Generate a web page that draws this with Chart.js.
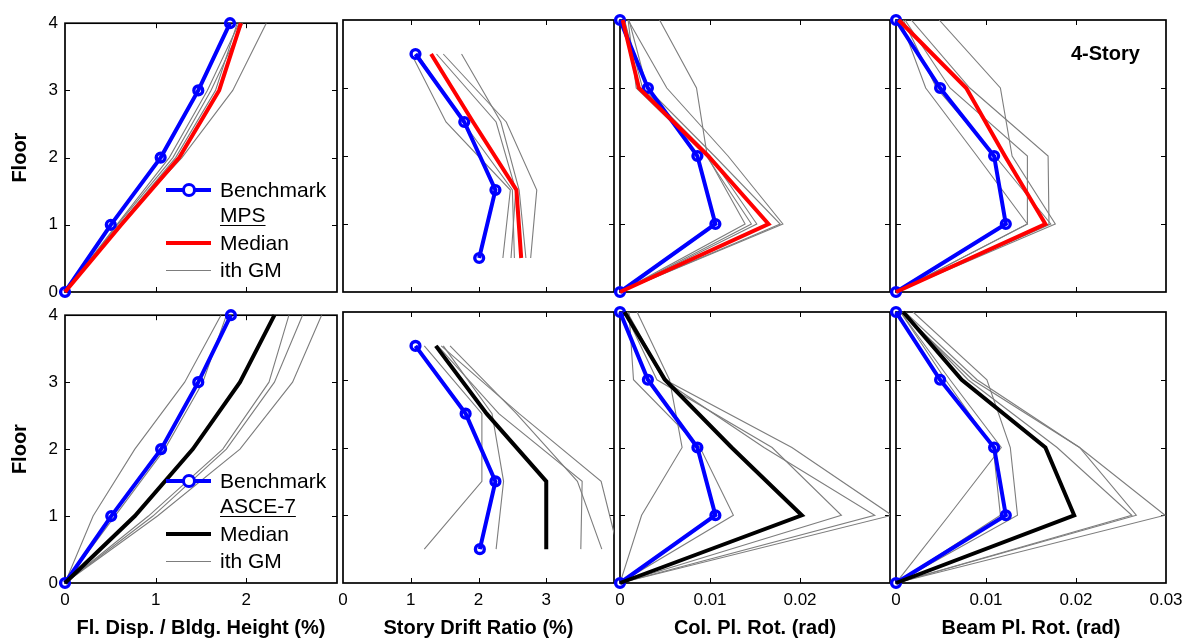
<!DOCTYPE html>
<html>
<head>
<meta charset="utf-8">
<script src="https://cdn.jsdelivr.net/npm/chart.js@4.4.1/dist/chart.umd.min.js"></script>
<style>
  html, body { margin: 0; padding: 0; background: #fff; }
  body { width: 1188px; height: 640px; position: relative; overflow: hidden;
         font-family: "Liberation Sans", Arial, sans-serif; color: #000; }
  canvas { position: absolute; }
  .txt { position: absolute; white-space: nowrap; line-height: 24px; transform: translateY(-50%); }
  .lg { font-size: 21px; }
  .u { text-decoration: underline; text-underline-offset: 3px; text-decoration-thickness: 1px; }
  .sample { position: absolute; }
  .mk { position: absolute; width: 8px; height: 8px; border: 3px solid #0000ff; border-radius: 50%; background: #fff; }
  .story { font-size: 20px; font-weight: bold; }
</style>
</head>
<body>
<script>
// ── Data ─────────────────────────────────────────────────
const floors = [0, 1, 2, 3, 4];
const stories = [0.5, 1.5, 2.5, 3.5];

const xTitles = ["Fl. Disp. / Bldg. Height (%)", "Story Drift Ratio (%)", "Col. Pl. Rot. (rad)", "Beam Pl. Rot. (rad)"];
const xMaxes = [3, 4, 0.03, 0.03];
const xSteps = [1, 1, 0.01, 0.01];

// top row: Benchmark MPS, median in red (floors 0..4 / stories 0.5..3.5)
const mpsDispBench = [0, 0.505, 1.055, 1.47, 1.82];
const mpsDispMedian = [0, 0.62, 1.26, 1.70, 1.94];
const mpsDispGM = [
  [0, 0.58, 1.19, 1.61, 1.96],
  [0, 0.60, 1.29, 1.85, 2.22],
  [0, 0.60, 1.22, 1.66, 1.90],
  [0, 0.57, 1.15, 1.57, 1.92],
];

const mpsDriftBench = [2.01, 2.25, 1.79, 1.07];
const mpsDriftMedian = [2.63, 2.56, 1.92, 1.30];
const mpsDriftGM = [
  [2.36, 2.47, 1.52, 1.01],
  [2.48, 2.55, 2.26, 1.38],
  [2.77, 2.86, 2.41, 1.48],
  [2.70, 2.60, 2.33, 1.75],
  [2.53, 2.50, 1.77, 1.10],
];

const mpsColBench = [0, 0.0106, 0.0086, 0.0031, 0];
const mpsColMedian = [0, 0.0165, 0.0098, 0.0021, 0.0003];
const mpsColGM = [
  [0, 0.0139, 0.0097, 0.0085, 0.0044],
  [0, 0.0146, 0.0096, 0.0018, 0.0009],
  [0, 0.0181, 0.0120, 0.0052, 0.0009],
  [0, 0.0152, 0.0100, 0.0025, 0.0005],
  [0, 0.0178, 0.0105, 0.0030, 0.0010],
];

const mpsBeamBench = [0, 0.0122, 0.0109, 0.0049, 0];
const mpsBeamMedian = [0, 0.0166, 0.0121, 0.0078, 0.0003];
const mpsBeamGM = [
  [0, 0.0177, 0.0129, 0.0116, 0.0048],
  [0, 0.0170, 0.0169, 0.0082, 0.0017],
  [0, 0.0146, 0.0090, 0.0033, 0.0005],
  [0, 0.0146, 0.0146, 0.0060, 0.0010],
  [0, 0.0172, 0.0110, 0.0045, 0.0008],
];

// bottom row: Benchmark ASCE-7, median in black
const asceDispBench = [0, 0.51, 1.06, 1.47, 1.83];
const asceDispMedian = [0, 0.77, 1.41, 1.93, 2.31];
const asceDispGM = [
  [0, 0.31, 0.77, 1.32, 1.72],
  [0, 0.55, 1.10, 1.52, 1.78],
  [0, 0.92, 1.74, 2.25, 2.47],
  [0, 0.97, 1.78, 2.31, 2.62],
  [0, 1.02, 1.93, 2.51, 2.83],
];

const asceDriftBench = [2.02, 2.25, 1.81, 1.07];
const asceDriftMedian = [3.0, 3.0, 2.12, 1.37];
const asceDriftGM = [
  [1.20, 2.05, 2.05, 1.20],
  [2.26, 2.37, 2.20, 1.48],
  [3.82, 3.46, 2.56, 1.58],
  [3.51, 3.53, 2.30, 1.40],
  [4.06, 3.81, 2.60, 1.45],
];

const asceColBench = [0, 0.0106, 0.0086, 0.0031, 0];
const asceColMedian = [0, 0.0202, 0.0124, 0.0050, 0.0005];
const asceColGM = [
  [0, 0.0024, 0.0069, 0.0055, 0.0019],
  [0, 0.0126, 0.0089, 0.0015, 0.0010],
  [0, 0.0246, 0.0169, 0.0041, 0.0005],
  [0, 0.0302, 0.0191, 0.0050, 0.0008],
  [0, 0.0283, 0.0160, 0.0048, 0.0006],
];

const asceBeamBench = [0, 0.0122, 0.0109, 0.0049, 0];
const asceBeamMedian = [0, 0.0198, 0.0166, 0.0073, 0.0008];
const asceBeamGM = [
  [0, 0.0059, 0.0117, 0.0060, 0.0005],
  [0, 0.0135, 0.0127, 0.0101, 0.0019],
  [0, 0.0262, 0.0179, 0.0080, 0.0008],
  [0, 0.0299, 0.0204, 0.0090, 0.0010],
  [0, 0.0267, 0.0204, 0.0085, 0.0006],
  [0, 0.0116, 0.0108, 0.0055, 0.0005],
];

// ── Layout ───────────────────────────────────────────────
const colBox = [[65, 337], [343, 614], [620, 890], [896, 1166]];
const rowBox = [[20, 292], [312, 583]];
const FONT = "'Liberation Sans', Arial, sans-serif";
const BLUE = "#0000ff";
const GRAY = "#7d7d7d";

// box + inward tick marks, MATLAB style
const boxPlugin = {
  id: "box",
  beforeDatasetsDraw(chart) {
    const { ctx, chartArea: a, scales: { x, y } } = chart;
    ctx.save();
    ctx.strokeStyle = "#000";
    ctx.lineWidth = 1;
    ctx.beginPath();
    x.ticks.forEach((t) => {
      const px = Math.round(x.getPixelForValue(t.value)) + 0.5;
      if (px <= a.left + 2 || px >= a.right - 2) return;
      ctx.moveTo(px, a.bottom); ctx.lineTo(px, a.bottom - 5);
      ctx.moveTo(px, a.top); ctx.lineTo(px, a.top + 5);
    });
    y.ticks.forEach((t) => {
      const py = Math.round(y.getPixelForValue(t.value)) + 0.5;
      if (py <= a.top + 2 || py >= a.bottom - 2) return;
      ctx.moveTo(a.left, py); ctx.lineTo(a.left + 5, py);
      ctx.moveTo(a.right, py); ctx.lineTo(a.right - 5, py);
    });
    ctx.stroke();
    ctx.lineWidth = 1.7;
    ctx.strokeRect(a.left, a.top, a.right - a.left, a.bottom - a.top);
    ctx.restore();
  },
};

const fmtTick = (v) => String(Number(v.toFixed(3)));

function pts(vals, ys) {
  return vals.map((v, i) => ({ x: v, y: ys[i] }));
}

function makePanel(col, row, ys, bench, median, medColor, gms) {
  const padL = 60, padT = 14, padR = 26, padB = 57;
  const [L, R] = colBox[col];
  const [T, B] = rowBox[row];
  const cv = document.createElement("canvas");
  cv.width = R - L + padL + padR;
  cv.height = B - T + padT + padB;
  cv.style.left = L - padL + "px";
  cv.style.top = T - padT + "px";
  document.body.appendChild(cv);

  const showX = row === 1;
  const showY = col === 0;
  const xMax = xMaxes[col];

  const datasets = [
    { data: pts(median, ys), borderColor: medColor, borderWidth: 4, pointRadius: 0, showLine: true, clip: false },
    { data: pts(bench, ys), borderColor: BLUE, borderWidth: 4, pointRadius: 4.4, pointBorderWidth: 3.4,
      pointBorderColor: BLUE, pointBackgroundColor: "rgba(0,0,0,0)", showLine: true, clip: false },
    ...gms.map((g) => ({ data: pts(g, ys), borderColor: GRAY, borderWidth: 1.1, pointRadius: 0, showLine: true })),
  ];

  new Chart(cv, {
    type: "scatter",
    data: { datasets },
    options: {
      responsive: false,
      animation: false,
      events: [],
      layout: { padding: { top: padT, right: padR, left: 0, bottom: 0 } },
      plugins: { legend: { display: false }, tooltip: { enabled: false } },
      scales: {
        x: {
          type: "linear", min: 0, max: xMax,
          ticks: {
            stepSize: xSteps[col], display: showX, padding: 7, color: "#000", maxRotation: 0,
            font: { family: FONT, size: 17 },
            callback: (v) => (col < 3 && Math.abs(v - xMax) < 1e-9 ? "" : fmtTick(v)),
          },
          grid: { display: false, drawTicks: false },
          border: { display: false },
          title: { display: showX, text: xTitles[col], color: "#000", padding: 0,
                   font: { family: FONT, size: 20, weight: "bold" } },
          afterFit: (s) => { s.height = padB; },
        },
        y: {
          type: "linear", min: 0, max: 4,
          ticks: { stepSize: 1, display: showY, padding: 7, color: "#000",
                   font: { family: FONT, size: 17 }, callback: fmtTick },
          grid: { display: false, drawTicks: false },
          border: { display: false },
          title: { display: showY, text: "Floor", color: "#000", padding: { top: 3, bottom: 0 },
                   font: { family: FONT, size: 20, weight: "bold" } },
          afterFit: (s) => { s.width = padL; },
        },
      },
    },
    plugins: [boxPlugin],
  });
}

makePanel(0, 0, floors, mpsDispBench, mpsDispMedian, "#ff0000", mpsDispGM);
makePanel(1, 0, stories, mpsDriftBench, mpsDriftMedian, "#ff0000", mpsDriftGM);
makePanel(2, 0, floors, mpsColBench, mpsColMedian, "#ff0000", mpsColGM);
makePanel(3, 0, floors, mpsBeamBench, mpsBeamMedian, "#ff0000", mpsBeamGM);
makePanel(0, 1, floors, asceDispBench, asceDispMedian, "#000000", asceDispGM);
makePanel(1, 1, stories, asceDriftBench, asceDriftMedian, "#000000", asceDriftGM);
makePanel(2, 1, floors, asceColBench, asceColMedian, "#000000", asceColGM);
makePanel(3, 1, floors, asceBeamBench, asceBeamMedian, "#000000", asceBeamGM);

// ── Legends ──────────────────────────────────────────────
function addText(x, y, text, cls) {
  const d = document.createElement("div");
  d.className = "txt " + cls;
  d.style.left = x + "px";
  d.style.top = y + "px";
  d.textContent = text;
  document.body.appendChild(d);
  return d;
}

function addSample(y, color, width, marker) {
  const s = document.createElement("div");
  s.className = "sample";
  s.style.left = "166px";
  s.style.width = "45px";
  s.style.top = y - width / 2 + "px";
  s.style.height = width + "px";
  s.style.background = color;
  document.body.appendChild(s);
  if (marker) {
    const m = document.createElement("div");
    m.className = "mk";
    m.style.left = 189 - 7 + "px";
    m.style.top = y - 7 + "px";
    document.body.appendChild(m);
  }
}

function addLegend(y0, name, medColor) {
  addSample(y0, BLUE, 4, true);
  addText(220, y0, "Benchmark", "lg");
  addText(220, y0 + 25, name, "lg u");
  addSample(y0 + 53, medColor, 4, false);
  addText(220, y0 + 53, "Median", "lg");
  addSample(y0 + 80, GRAY, 1, false);
  addText(220, y0 + 80, "ith GM", "lg");
}

addLegend(190, "MPS", "#ff0000");
addLegend(481, "ASCE-7", "#000000");

addText(1071, 53, "4-Story", "story");
</script>
</body>
</html>
